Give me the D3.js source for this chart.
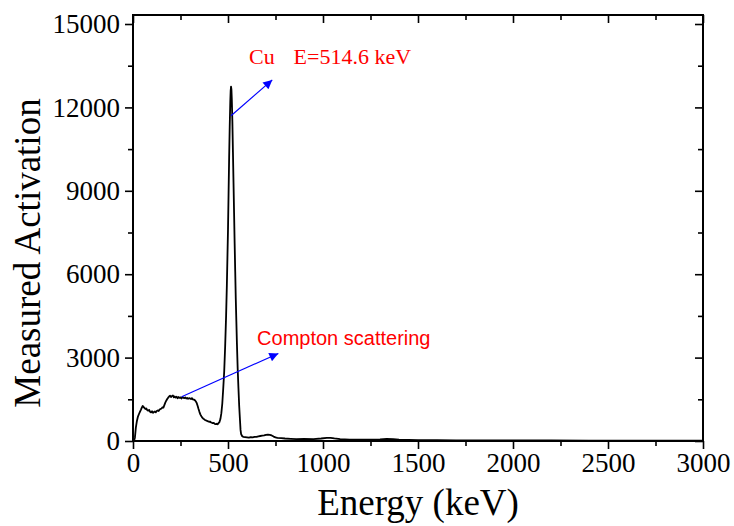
<!DOCTYPE html>
<html>
<head>
<meta charset="utf-8">
<script src="https://cdn.jsdelivr.net/npm/d3@7"></script>
<style>
  body { margin: 0; background: #fff; }
</style>
</head>
<body>
<script>
// spectrum (keV, counts)
const energy = [0, 5, 10, 15, 20, 26, 32, 37, 42, 47, 51, 55, 60, 65, 70, 75, 80, 85, 90, 95,
  100, 105, 110, 115, 120, 125, 130, 135, 140, 145, 150, 155, 160, 165, 170, 175, 180, 185, 190, 195,
  200, 205, 210, 215, 220, 225, 230, 235, 240, 245, 250, 255, 260, 265, 270, 275, 280, 285, 290, 295,
  300, 305, 310, 315, 320, 325, 330, 335, 340, 345, 350, 355, 360, 365, 370, 375, 380, 385, 390, 395,
  400, 405, 410, 415, 420, 425, 430, 435, 440, 445, 450, 455, 460, 465, 470, 475, 480, 485, 490, 494,
  497, 500, 503, 506, 509, 512, 514, 516, 518, 520, 523, 526, 529, 532, 535, 538, 541, 544, 547, 551,
  555, 559, 563, 566, 569, 575, 581, 590, 600, 610, 620, 630, 640, 650, 660, 670, 680, 690, 700, 710,
  720, 730, 740, 750, 760, 780, 800, 830, 860, 900, 950, 990, 1020, 1040, 1060, 1090, 1140, 1200, 1250, 1300,
  1335, 1370, 1400, 1450, 1500, 1600, 1700, 1800, 2000, 2200, 2400, 2600, 2800, 3000];
const counts = [0, 0, 120, 480, 700, 880, 980, 1060, 1130, 1210, 1260, 1230, 1190, 1150, 1170, 1110, 1090, 1120, 1050, 1030,
  1070, 1010, 1040, 1060, 1030, 1080, 1100, 1080, 1130, 1150, 1170, 1210, 1200, 1290, 1380, 1450, 1510, 1560, 1600, 1630,
  1580, 1620, 1640, 1570, 1600, 1560, 1590, 1540, 1580, 1550, 1570, 1530, 1580, 1560, 1540, 1570, 1530, 1550, 1520, 1540,
  1530, 1510, 1540, 1500, 1490, 1470, 1430, 1370, 1270, 1150, 1040, 950, 890, 840, 800, 780, 750, 740, 720, 710,
  690, 700, 670, 660, 640, 650, 620, 610, 620, 600, 640, 680, 790, 1000, 1350, 1900, 2500, 3400, 4500, 5600,
  6600, 7600, 8900, 10200, 11300, 12200, 12600, 12750, 12650, 12300, 11500, 10400, 9300, 8200, 7100, 6100, 5100, 4300, 3500, 2600,
  1900, 1250, 760, 400, 250, 170, 150, 140, 130, 120, 140, 130, 150, 150, 170, 180, 190, 200, 220, 230,
  220, 200, 160, 130, 110, 100, 90, 80, 70, 75, 70, 90, 110, 115, 95, 70, 50, 45, 50, 60,
  75, 70, 50, 40, 35, 30, 25, 25, 20, 18, 15, 15, 12, 10];

const xTicks = [0, 500, 1000, 1500, 2000, 2500, 3000];
const yTicks = [0, 3000, 6000, 9000, 12000, 15000];

// annotations: [x0, y0, x1, y1] in data units, and labels
const arrows = [[516, 11700, 733, 12990], [256, 1590, 765, 3150]];
const labels = [
  { text: "Cu", e: 611, v: 13560, serif: true },
  { text: "E=514.6 keV", e: 845, v: 13560, serif: true },
  { text: "Compton scattering", e: 653, v: 3450, serif: false }
];

const serif = "'Liberation Serif', 'Times New Roman', serif";
const sans = "'Liberation Sans', Arial, sans-serif";

const width = 734, height = 526;
const margin = { top: 15, right: 31, bottom: 85, left: 133 };

const svg = d3.select("body").append("svg")
  .attr("width", width)
  .attr("height", height);

const x = d3.scaleLinear().domain([0, 3000]).range([margin.left, width - margin.right]);
const y = d3.scaleLinear().domain([0, 15324]).range([height - margin.bottom, margin.top]);

const data = energy.map((e, i) => ({ e: e, v: counts[i] }));

// curve
svg.append("path")
  .datum(data)
  .attr("fill", "none")
  .attr("stroke", "#000")
  .attr("stroke-width", 1.8)
  .attr("stroke-linejoin", "round")
  .attr("d", d3.line().x(d => x(d.e)).y(d => y(d.v)));

// axes helper
function styleAxis(g) {
  g.select(".domain").remove();
  g.selectAll("line").attr("stroke", "#000").attr("stroke-width", 1.6);
  g.selectAll("text").attr("font-size", 27).attr("fill", "#000")
    .attr("font-family", serif);
}

const xMinor = d3.range(250, 3000, 500);
const yMinor = d3.range(1500, 15000, 3000);

// bottom
svg.append("g").attr("transform", `translate(0,${y(0)})`)
  .call(d3.axisBottom(x).tickValues(xTicks).tickSize(8).tickPadding(4).tickFormat(d3.format("d")))
  .call(styleAxis);
svg.append("g").attr("transform", `translate(0,${y(0)})`)
  .call(d3.axisBottom(x).tickValues(xMinor).tickSize(5).tickFormat(""))
  .call(styleAxis);
// top (inward)
svg.append("g").attr("transform", `translate(0,${margin.top})`)
  .call(d3.axisBottom(x).tickValues(xTicks).tickSize(8).tickFormat(""))
  .call(styleAxis);
svg.append("g").attr("transform", `translate(0,${margin.top})`)
  .call(d3.axisBottom(x).tickValues(xMinor).tickSize(5).tickFormat(""))
  .call(styleAxis);
// left
svg.append("g").attr("transform", `translate(${x(0)},0)`)
  .call(d3.axisLeft(y).tickValues(yTicks).tickSize(8).tickPadding(5).tickFormat(d3.format("d")))
  .call(styleAxis);
svg.append("g").attr("transform", `translate(${x(0)},0)`)
  .call(d3.axisLeft(y).tickValues(yMinor).tickSize(5).tickFormat(""))
  .call(styleAxis);
// right (inward)
svg.append("g").attr("transform", `translate(${x(3000)},0)`)
  .call(d3.axisLeft(y).tickValues(yTicks).tickSize(8).tickFormat(""))
  .call(styleAxis);
svg.append("g").attr("transform", `translate(${x(3000)},0)`)
  .call(d3.axisLeft(y).tickValues(yMinor).tickSize(5).tickFormat(""))
  .call(styleAxis);

// frame
svg.append("rect")
  .attr("x", x(0)).attr("y", y.range()[1])
  .attr("width", x(3000) - x(0))
  .attr("height", y(0) - y.range()[1])
  .attr("fill", "none")
  .attr("stroke", "#000")
  .attr("stroke-width", 2);

// axis titles
svg.append("text")
  .attr("x", (x(0) + x(3000)) / 2)
  .attr("y", 515)
  .attr("text-anchor", "middle")
  .attr("font-family", serif)
  .attr("font-size", 37)
  .text("Energy (keV)");

svg.append("text")
  .attr("transform", `translate(40,${(y(0) + y.range()[1]) / 2 + 25}) rotate(-90)`)
  .attr("text-anchor", "middle")
  .attr("font-family", serif)
  .attr("font-size", 37)
  .text("Measured Activation");

// arrows
svg.append("defs").append("marker")
  .attr("id", "head")
  .attr("viewBox", "0 0 10 10")
  .attr("refX", 10).attr("refY", 5)
  .attr("markerWidth", 12).attr("markerHeight", 9)
  .attr("markerUnits", "userSpaceOnUse")
  .attr("orient", "auto")
  .append("path")
  .attr("d", "M0,0 L10,5 L0,10 Z")
  .attr("fill", "#0000ff");

svg.selectAll(".arrow").data(arrows).enter().append("line")
  .attr("x1", d => x(d[0])).attr("y1", d => y(d[1]))
  .attr("x2", d => x(d[2])).attr("y2", d => y(d[3]))
  .attr("stroke", "#0000ff")
  .attr("stroke-width", 1.2)
  .attr("marker-end", "url(#head)");

svg.selectAll(".note").data(labels).enter().append("text")
  .attr("x", d => x(d.e)).attr("y", d => y(d.v))
  .attr("fill", "#ff0000")
  .attr("font-size", d => d.serif ? 22 : 20)
  .attr("font-family", d => d.serif ? serif : sans)
  .text(d => d.text);
</script>
</body>
</html>
